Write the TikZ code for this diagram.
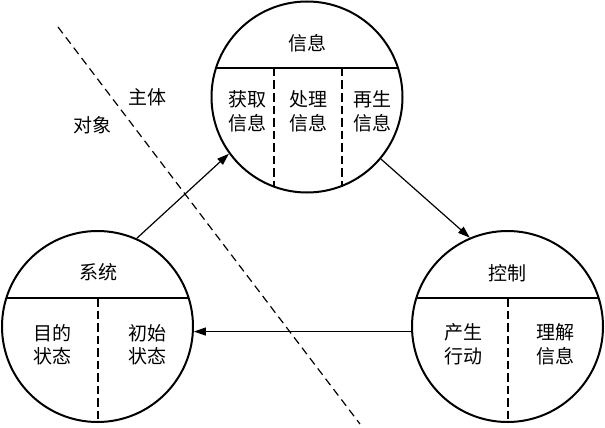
\documentclass[tikz,border=0pt]{standalone}
\usepackage{fontspec}
\newfontfamily\cjk{Noto Sans CJK SC}
\usetikzlibrary{arrows.meta}
\begin{document}
\begin{tikzpicture}[x=1pt,y=-1pt,
  ring/.style={circle,draw,line width=2pt,minimum size=191pt,inner sep=0pt},
  chord/.style={line width=2pt},
  inner/.style={line width=2pt,dash pattern=on 8.5pt off 4pt},
  divide/.style={line width=1.2pt,dash pattern=on 8pt off 5pt},
  link/.style={line width=1.2pt,-{Triangle[length=12pt,width=8pt]}},
  lbl/.style={font=\cjk\fontsize{19}{23.5}\selectfont,align=center,inner sep=0pt}]
\useasboundingbox (0,0) rectangle (605,428);
% circles
\node[ring] (T) at (307,97) {};
\node[ring] (L) at (97.5,326.5) {};
\node[ring] (R) at (507.5,326.5) {};
% chords
\draw[chord] (216,68) -- (398,68);
\draw[chord] (6.2,298) -- (188.8,298);
\draw[chord] (416.2,298) -- (598.8,298);
% inner dashed dividers
\draw[inner] (274,68) -- (274,186.5);
\draw[inner] (342,68) -- (342,187);
\draw[inner] (97.5,298) -- (97.5,422);
\draw[inner] (507.5,298) -- (507.5,422);
% diagonal divider
\coordinate (d1) at (58,27);
\coordinate (d2) at (360,424);
\draw[divide] (d1) -- (d2);
% texts
\node[lbl] (t0) at (307,43) {信息};
\node[lbl] (t1) at (247,111.5) {获取\\信息};
\node[lbl] (t2) at (308,111.5) {处理\\信息};
\node[lbl] (t3) at (372,111.5) {再生\\信息};
\node[lbl] (l0) at (98,272) {系统};
\node[lbl] (l1) at (52,344.5) {目的\\状态};
\node[lbl] (l2) at (147,344.5) {初始\\状态};
\node[lbl] (r0) at (507,273) {控制};
\node[lbl] (r1) at (463,344.5) {产生\\行动};
\node[lbl] (r2) at (555,344.5) {理解\\信息};
\node[lbl] (s1) at (147,97) {主体};
\node[lbl] (s2) at (92,125) {对象};
% connectors
\draw[link] (L.66.6) -- (T.216.6);
\draw[link] (T.-40) -- (R.113.9);
\draw[link] (R.183.9) -- (L.-3.9);
\end{tikzpicture}
\end{document}
